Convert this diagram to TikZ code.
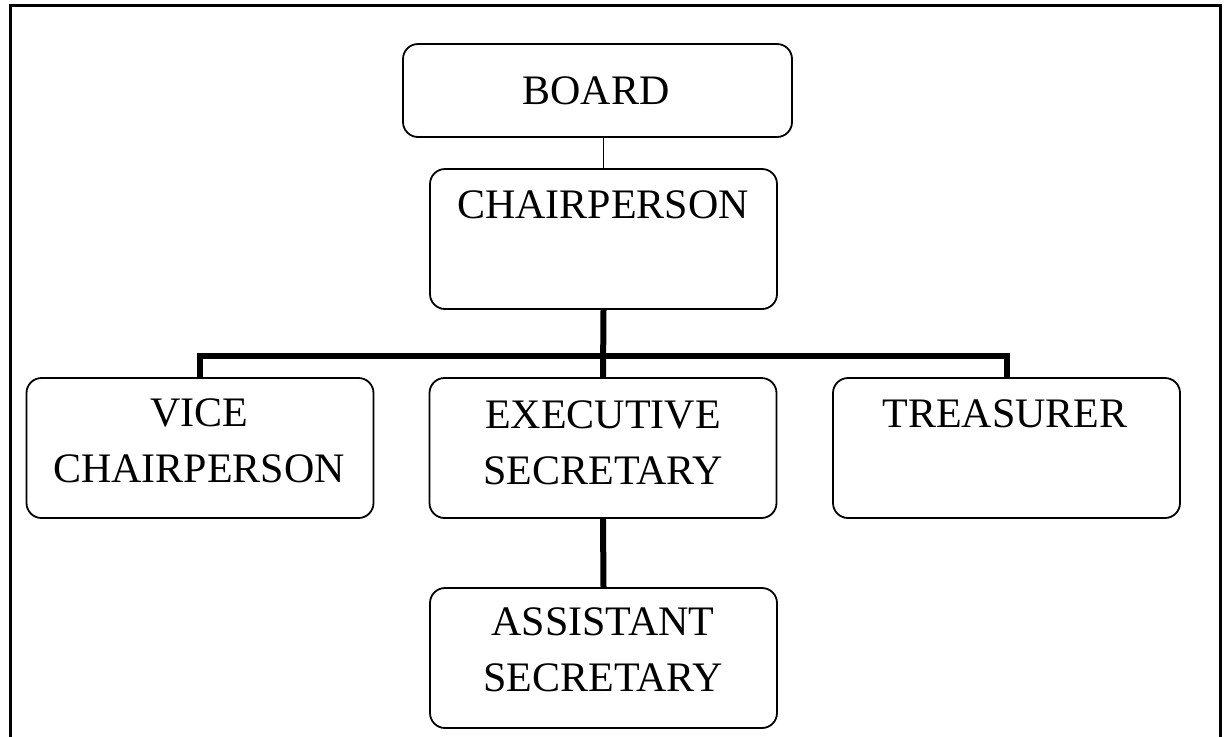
\documentclass[tikz,border=0pt]{standalone}
\usepackage{fontspec}
\setmainfont{Liberation Serif}
\newcommand{\orglines}[1]{\begin{tabular}[t]{@{}c@{}}#1\end{tabular}}
\tikzset{
  orgbox/.style={draw, line width=0.9pt, rounded corners=7.5pt, minimum width=173.5pt, minimum height=70pt, inner sep=0pt},
  orglbl/.style={anchor=base, inner sep=0pt, font=\fontsize{21}{28}\selectfont},
  thinlink/.style={line width=0.65pt},
  thicklink/.style={line width=3pt},
  frameline/.style={line width=1.5pt}
}
\begin{document}
\begin{tikzpicture}[x=0.5pt,y=-0.5pt]
\useasboundingbox (0,0) rectangle (1226,736);
\draw[frameline] (10,760) -- (10,5) -- (1220,5) -- (1220,760);
% boxes
\node[orgbox, minimum width=194.5pt, minimum height=46.5pt] (board) at (597.5,90.5) {};
\node[orgbox] (chair) at (603.5,239) {};
\node[orgbox] (vice) at (200,448) {};
\node[orgbox] (exec) at (603,448) {};
\node[orgbox] (treas) at (1006.5,448) {};
\node[orgbox] (assist) at (603.5,658) {};
% labels
\node[orglbl] (tboard) at (596,104) {BOARD};
\node[orglbl] (tchair) at (603,218) {CHAIRPERSON};
\node[orglbl] (tvice) at (199,426) {\orglines{VICE\\CHAIRPERSON}};
\node[orglbl] (texec) at (603,428) {\orglines{EXECUTIVE\\SECRETARY}};
\node[orglbl] (ttreas) at (1005,427) {TREASURER};
\node[orglbl] (tassist) at (603,635) {\orglines{ASSISTANT\\SECRETARY}};
% connectors
\coordinate (bus) at (603,356);
\draw[thinlink] (chair.north |- board.south) -- (chair.north);
\draw[thicklink] (chair.south) -- (exec.north);
\draw[thicklink] (vice.north) -- (vice.north |- bus) -- (treas.north |- bus) -- (treas.north);
\draw[thicklink] (exec.south) -- (assist.north);
\end{tikzpicture}
\end{document}
